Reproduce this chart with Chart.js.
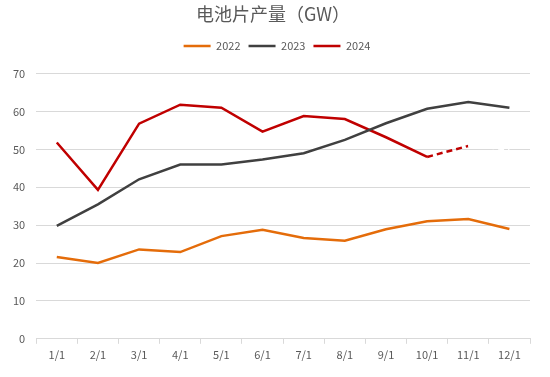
<!DOCTYPE html>
<html>
<head>
<meta charset="utf-8">
<script src="https://cdn.jsdelivr.net/npm/chart.js@4"></script>
<style>
  html, body { margin: 0; padding: 0; background: #fff; }
  #wrap { width: 550px; height: 377px; }
</style>
</head>
<body>
<div id="wrap"><canvas id="cellChart"></canvas></div>
<script>
const months = ['1/1', '2/1', '3/1', '4/1', '5/1', '6/1', '7/1', '8/1', '9/1', '10/1', '11/1', '12/1'];
const output2022 = [21.6, 20.0, 23.6, 22.9, 27.1, 28.8, 26.6, 25.9, 28.9, 31.0, 31.6, 29.0];
const output2023 = [29.8, 35.5, 42.1, 46.0, 46.0, 47.3, 49.0, 52.5, 56.9, 60.7, 62.5, 61.0];
const output2024 = [51.8, 39.3, 56.8, 61.8, 61.0, 54.7, 58.8, 58.0, 53.2, 48.0, 50.9, 50.0];
const yTicks = [0, 10, 20, 30, 40, 50, 60, 70];

const fontFamily = '"Noto Sans CJK SC", "Noto Sans", sans-serif';

// 2024 : réel jusqu'à 10/1, puis pointillés, dernier segment masqué (blanc)
const lastReal = 9;
const lastShown = 10;

// décale titre et légende, et ajoute de l'espace sous la légende
const headerShift = {
    id: 'headerShift',
    beforeInit(chart) {
        const fit = chart.legend.fit;
        chart.legend.fit = function () {
            fit.bind(chart.legend)();
            this.height += 12;
        };
    },
    afterLayout(chart) {
        chart.legend.left += 11;
        chart.legend.right += 11;
        chart.titleBlock.left += 7;
        chart.titleBlock.right += 7;
    }
};

new Chart(document.getElementById('cellChart'), {
    type: 'line',
    data: {
        labels: months,
        datasets: [
            {
                label: '2022',
                data: output2022,
                borderColor: '#E46C0A',
                backgroundColor: '#E46C0A',
                borderWidth: 2.5,
                pointRadius: 0,
                tension: 0
            },
            {
                label: '2023',
                data: output2023,
                borderColor: '#404040',
                backgroundColor: '#404040',
                borderWidth: 2.5,
                pointRadius: 0,
                tension: 0
            },
            {
                label: '2024',
                data: output2024,
                borderColor: '#C00000',
                backgroundColor: '#C00000',
                borderWidth: 2.5,
                pointRadius: 0,
                tension: 0,
                segment: {
                    borderDash: ctx => ctx.p0DataIndex >= lastReal ? [6, 4] : undefined,
                    borderColor: ctx => ctx.p0DataIndex >= lastShown ? '#FFFFFF' : undefined
                }
            }
        ]
    },
    plugins: [headerShift],
    options: {
        responsive: true,
        maintainAspectRatio: false,
        animation: false,
        layout: {
            padding: { left: 2, right: 20, top: 2, bottom: 12 }
        },
        plugins: {
            title: {
                display: true,
                text: '电池片产量（GW）',
                color: '#595959',
                font: { family: fontFamily, size: 18, weight: 'normal' },
                padding: { top: 1, bottom: 8 }
            },
            legend: {
                position: 'top',
                labels: {
                    color: '#595959',
                    font: { family: fontFamily, size: 11 },
                    usePointStyle: true,
                    pointStyle: 'line',
                    pointStyleWidth: 27,
                    padding: 8
                }
            },
            tooltip: { enabled: false }
        },
        scales: {
            x: {
                offset: true,
                grid: {
                    offset: true,
                    drawOnChartArea: false,
                    drawTicks: true,
                    tickLength: 5,
                    color: '#D9D9D9'
                },
                border: { color: '#D9D9D9' },
                ticks: {
                    color: '#595959',
                    font: { family: fontFamily, size: 11 },
                    padding: 4,
                    maxRotation: 0
                }
            },
            y: {
                min: 0,
                max: 70,
                afterBuildTicks: axis => {
                    axis.ticks = yTicks.map(v => ({ value: v }));
                },
                grid: {
                    color: '#D9D9D9',
                    drawTicks: false
                },
                border: { display: false },
                ticks: {
                    color: '#595959',
                    font: { family: fontFamily, size: 11 },
                    padding: 11
                }
            }
        }
    }
});
</script>
</body>
</html>
